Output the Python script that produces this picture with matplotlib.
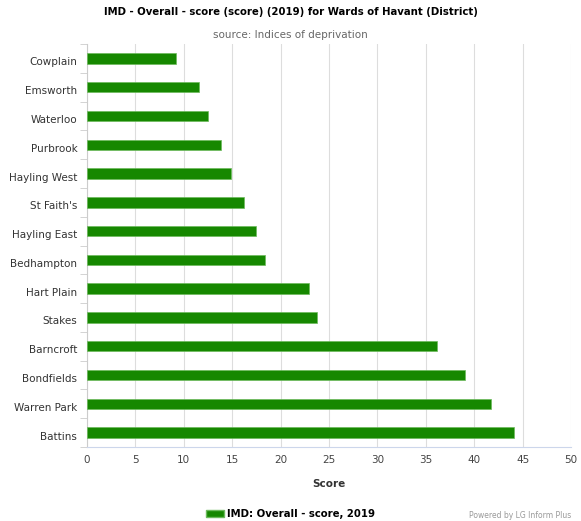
import numpy as np
import matplotlib.pyplot as plt
import matplotlib.transforms as mtransforms
from matplotlib.patches import Patch

# Wards, top to bottom as drawn
wards = ['Cowplain', 'Emsworth', 'Waterloo', 'Purbrook', 'Hayling West',
         "St Faith's", 'Hayling East', 'Bedhampton', 'Hart Plain', 'Stakes',
         'Barncroft', 'Bondfields', 'Warren Park', 'Battins']
scores = [9.2, 11.6, 12.5, 13.8, 14.9, 16.2, 17.5, 18.4, 22.9, 23.8,
          36.2, 39.1, 41.7, 44.1]
xticks = [0, 5, 10, 15, 20, 25, 30, 35, 40, 45, 50]

bar_color = '#168800'

fig = plt.figure(figsize=(5.81, 5.21), dpi=100)
ax = fig.add_axes([87/581, 1 - 447/521, (571-87)/581, (447-44)/521])

y = np.arange(len(wards))
ax.barh(y, scores, height=0.36, color=bar_color, edgecolor='#6cba5c', linewidth=0.5, zorder=3)

ax.set_ylim(len(wards) - 0.5, -0.5)
ax.set_xlim(0, 50)
ax.set_xticks(xticks)
ax.set_xticklabels([str(t) for t in xticks], fontsize=7.5, color='#444444')
ax.set_yticks(y)
ax.set_yticklabels(wards, fontsize=7.5, color='#333333')
ax.tick_params(axis='y', length=0, pad=7)
ax.tick_params(axis='x', length=0, pad=6)

# labels sit a little below the bar centres in the original
shift = mtransforms.ScaledTranslation(0, -3/100, fig.dpi_scale_trans)
for lbl in ax.get_yticklabels():
    lbl.set_transform(lbl.get_transform() + shift)

# small category boundary ticks on the left
ax.set_yticks(np.arange(len(wards) + 1) - 0.5, minor=True)
ax.tick_params(axis='y', which='minor', length=5, color='#cccccc', direction='out')

ax.grid(axis='x', color='#dddddd', linewidth=0.8, zorder=0)
for s in ['top', 'right']:
    ax.spines[s].set_visible(False)
ax.spines['left'].set_color('#cccccc')
ax.spines['bottom'].set_color('#ccd6eb')

ax.set_xlabel('Score', fontsize=7.5, fontweight='bold', color='#333333', labelpad=10)

fig.text(0.5, 1 - 12/521, 'IMD - Overall - score (score) (2019) for Wards of Havant (District)',
         ha='center', va='center', fontsize=7.3, fontweight='bold', color='#000000')
fig.text(0.5, 1 - 35/521, 'source: Indices of deprivation',
         ha='center', va='center', fontsize=7.5, color='#666666')

fig.legend(handles=[Patch(facecolor=bar_color, edgecolor='#6cba5c')],
           labels=['IMD: Overall - score, 2019'],
           loc='center', bbox_to_anchor=(0.5, 1 - 514/521), frameon=False,
           prop={'size': 7.3, 'weight': 'bold'}, handlelength=1.8, handleheight=0.8,
           handletextpad=0.3)

fig.text(571/581, 1/521, 'Powered by LG Inform Plus', ha='right', va='bottom',
         fontsize=5.5, color='#999999')

fig.savefig('out.png', dpi=100)
